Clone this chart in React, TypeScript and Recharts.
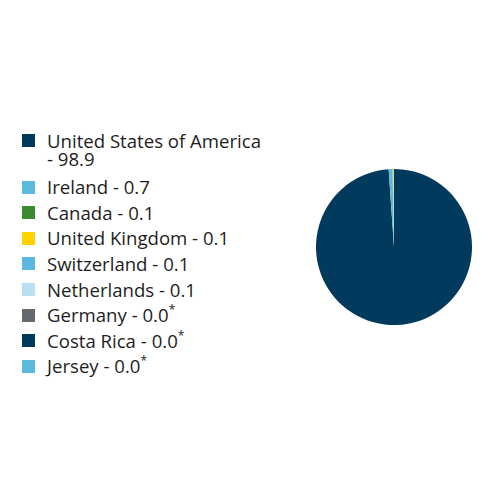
import { Cell, Legend, Pie, PieChart } from "recharts";

const COUNTRIES = [
  "United States of America",
  "Ireland",
  "Canada",
  "United Kingdom",
  "Switzerland",
  "Netherlands",
  "Germany",
  "Costa Rica",
  "Jersey",
];

// Percent share of the total, as printed in the legend.
const SHARES = [98.9, 0.7, 0.1, 0.1, 0.1, 0.1, 0.0, 0.0, 0.0];

const COLORS = [
  "#023a5e",
  "#5bb9dd",
  "#3b8a2f",
  "#fed100",
  "#5bb9dd",
  "#b8e0f0",
  "#63696f",
  "#023a5e",
  "#5bb9dd",
];

const data = COUNTRIES.map((name, i) => ({ name, value: SHARES[i] }));

function ShareLegend() {
  return (
    <ul
      style={{
        listStyle: "none",
        margin: 0,
        padding: 0,
        fontFamily: "'Open Sans', sans-serif",
        fontSize: 18.6,
        lineHeight: "18.6px",
        color: "#1e1e1e",
      }}
    >
      {data.map((d, i) => (
        <li
          key={d.name}
          style={{
            display: "flex",
            alignItems: "flex-start",
            marginBottom: i === 0 ? 9.5 : 7,
          }}
        >
          <span
            style={{
              display: "inline-block",
              width: 13,
              height: 13,
              marginTop: 2.5,
              marginRight: 12,
              flexShrink: 0,
              background: COLORS[i],
            }}
          />
          <span style={{ width: 222 }}>
            {d.name} - {d.value.toFixed(1)}
            {d.value < 0.05 && (
              <sup style={{ fontSize: 12, lineHeight: 0, verticalAlign: "8px" }}>*</sup>
            )}
          </span>
        </li>
      ))}
    </ul>
  );
}

export default function App() {
  return (
    <div style={{ position: "absolute", left: 0, top: 0, width: 492, height: 504, background: "#fff" }}>
      <PieChart width={492} height={504} margin={{ top: 0, right: 0, bottom: 0, left: 0 }}>
        <Pie
          data={data}
          dataKey="value"
          nameKey="name"
          cx={394}
          cy={247}
          outerRadius={78}
          startAngle={90}
          endAngle={-270}
          stroke="none"
          isAnimationActive={false}
        >
          {data.map((d, i) => (
            <Cell key={d.name} fill={COLORS[i]} />
          ))}
        </Pie>
        <Legend
          content={() => <ShareLegend />}
          wrapperStyle={{ left: 22, top: 131.5, width: 260 }}
        />
      </PieChart>
    </div>
  );
}
